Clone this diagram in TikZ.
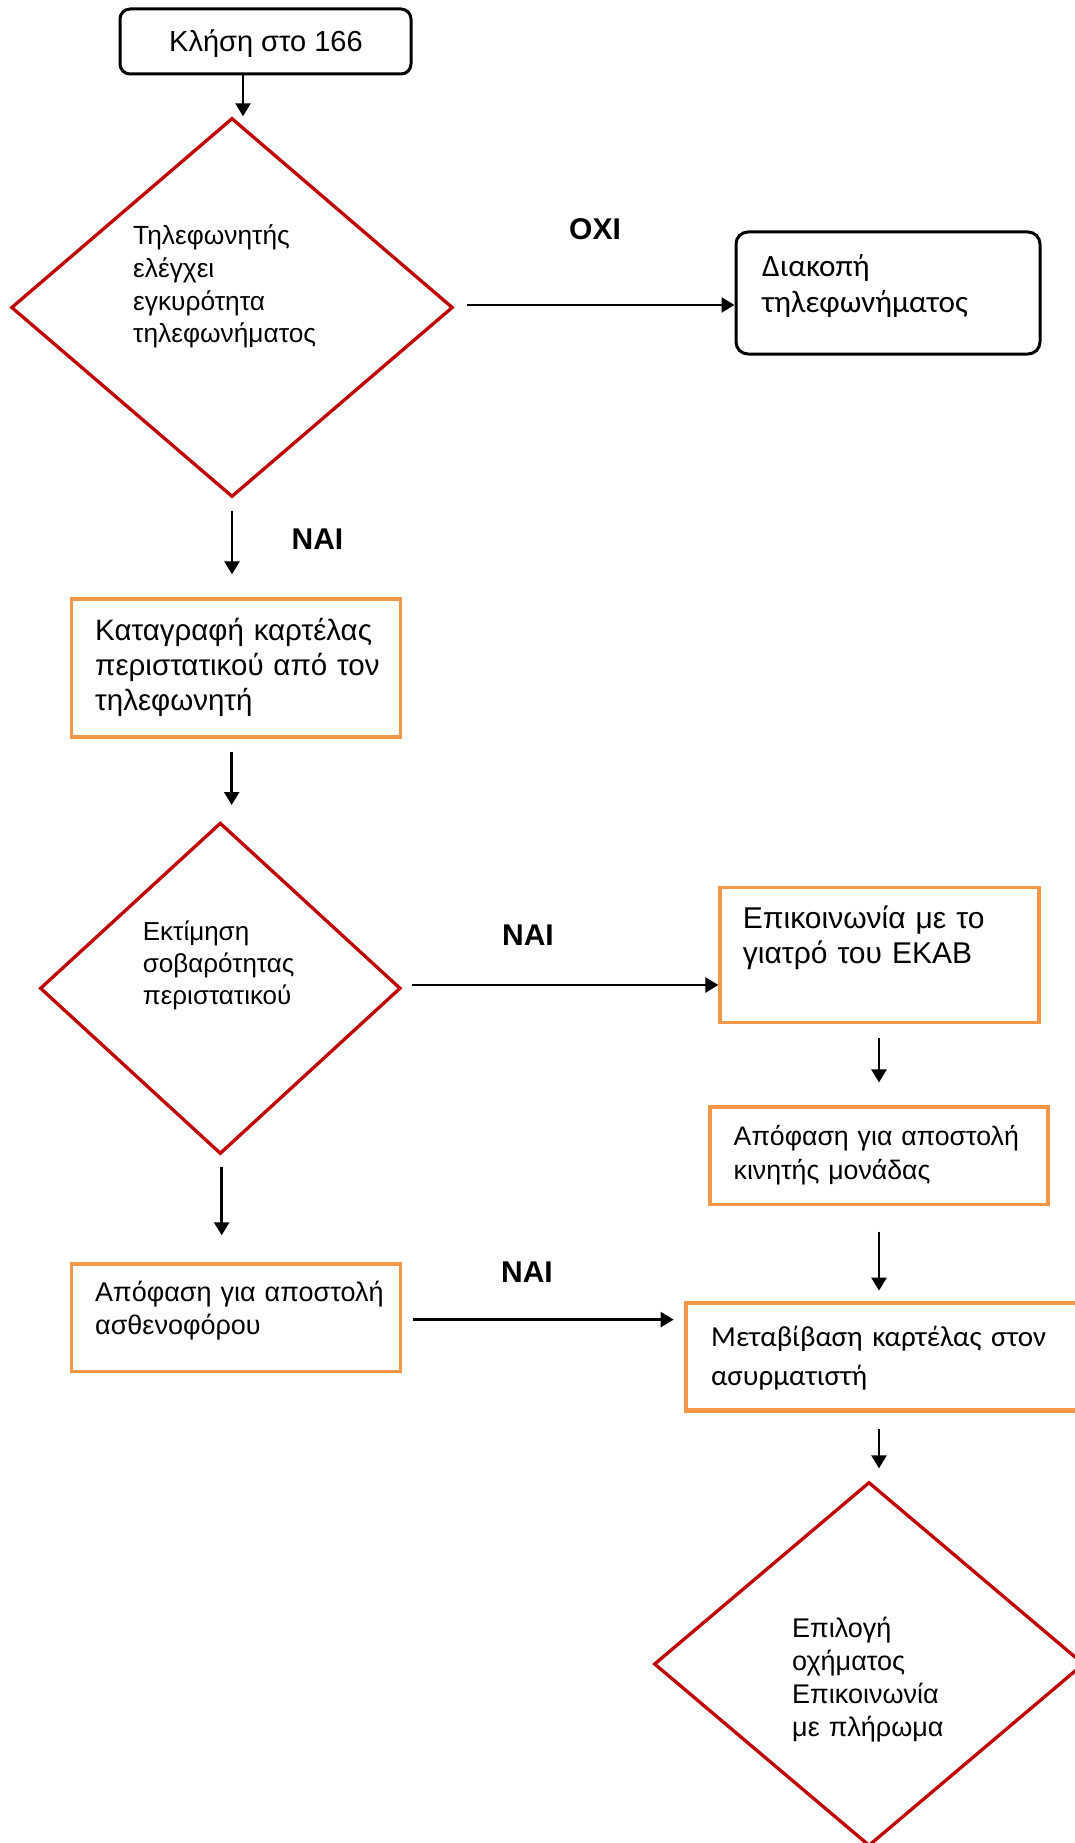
\documentclass[tikz,border=0pt]{standalone}
\usepackage{fontspec}
\setmainfont{Liberation Sans}
\newfontfamily\calibrifont{Carlito}
\usetikzlibrary{shapes.geometric,arrows.meta}
\definecolor{dred}{HTML}{C00000}
\definecolor{orng}{HTML}{F79646}
\tikzset{
  arr/.style={line width=2.5pt,-{Triangle[width=15pt,length=13pt]}},
  termbox/.style={draw=black,line width=3pt,rounded corners=10pt,inner sep=0pt},
  procbox/.style={draw=orng,line width=3.3pt,inner sep=0pt},
  decision/.style={diamond,draw=dred,line width=3.3pt,inner sep=0pt},
  lbl/.style={inner sep=0pt,anchor=base,font=\bfseries\fontsize{30}{36}\selectfont},
  txt/.style={inner sep=0pt,anchor=base west,align=left,text width=420pt}
}
\begin{document}
\begin{tikzpicture}[x=1pt,y=-1pt]
\useasboundingbox (0,0) rectangle (1075,1843);
\clip (0,0) rectangle (1075,1843);
\fill[white] (0,0) rectangle (1075,1843);

% shapes
\node[termbox,minimum width=291pt,minimum height=65pt] (b1) at (265.5,41.5) {};
\node[decision,minimum width=441.7pt,minimum height=379pt] (d1) at (232,307.5) {};
\node[termbox,rounded corners=12pt,minimum width=304pt,minimum height=122pt] (b2) at (888,293) {};
\node[procbox,minimum width=329pt,minimum height=138pt] (b3) at (236.2,668) {};
\node[decision,minimum width=360.7pt,minimum height=331.3pt] (d2) at (220.3,988.3) {};
\node[procbox,minimum width=319pt,minimum height=135pt] (b4) at (879.5,955.2) {};
\node[procbox,minimum width=338pt,minimum height=97.5pt] (b5) at (879,1155.8) {};
\node[procbox,minimum width=329pt,minimum height=107.7pt] (b6) at (236.2,1317.8) {};
\node[procbox,line width=4.7pt,minimum width=424pt,minimum height=107.7pt] (b7) at (898,1356.8) {};
\node[decision,minimum width=430pt,minimum height=364pt] (d3) at (869,1664) {};

% texts
\node[inner sep=0pt,anchor=base,font=\fontsize{29}{35}\selectfont] (t1) at (266,51.7) {Κλήση στο 166};
\node[txt,font=\fontsize{26.3}{32.6}\selectfont] (t2) at (133,245) {Τηλεφωνητής\\ελέγχει\\εγκυρότητα\\τηλεφωνήματος};
\node[txt,font=\calibrifont\fontsize{31.2}{36}\selectfont] (t3) at (762,276.7) {Διακοπή\\τηλεφωνήματος};
\node[txt,font=\fontsize{29.5}{35}\selectfont] (t4) at (95,640.7) {Καταγραφή καρτέλας\\περιστατικού από τον\\τηλεφωνητή};
\node[txt,font=\fontsize{26}{32}\selectfont] (t5) at (142.7,940.7) {Εκτίμηση\\σοβαρότητας\\περιστατικού};
\node[txt,font=\fontsize{30}{35}\selectfont] (t6) at (742.7,928.3) {Επικοινωνία με το\\γιατρό του ΕΚΑΒ};
\node[txt,font=\fontsize{26.7}{33.3}\selectfont] (t7) at (733.5,1145.7) {Απόφαση για αποστολή\\κινητής μονάδας};
\node[txt,font=\fontsize{27}{32.3}\selectfont] (t8) at (95,1301.7) {Απόφαση για αποστολή\\ασθενοφόρου};
\node[txt,font=\calibrifont\fontsize{29}{39}\selectfont] (t9) at (711,1346) {Μεταβίβαση καρτέλας στον\\ασυρματιστή};
\node[txt,font=\fontsize{27}{33}\selectfont] (t10) at (792,1637) {Επιλογή\\οχήματος\\Επικοινωνία\\με πλήρωμα};

% labels
\node[lbl] (l1) at (595,240) {ΟΧΙ};
\node[lbl] (l2) at (317.5,549) {ΝΑΙ};
\node[lbl] (l3) at (528,945) {ΝΑΙ};
\node[lbl] (l4) at (527,1282.7) {ΝΑΙ};

% connectors
\draw[arr] ([xshift=-22.5pt]b1.south) -- ([xshift=-22.5pt]b1.south |- d1.north);
\draw[arr,shorten <=12pt] ([yshift=2.5pt]d1.east) -- ([yshift=2.5pt]d1.east -| b2.west);
\draw[arr,shorten <=12pt,shorten >=23pt] (d1.south) -- (d1.south |- b3.north);
\draw[arr,shorten <=13pt,shorten >=16pt] ([xshift=-4.5pt]b3.south) -- ([xshift=-4.5pt]b3.south |- d2.north);
\draw[arr,shorten <=10pt] ([yshift=3.3pt]d2.east) -- ([yshift=3.3pt]d2.east -| b4.west);
\draw[arr,shorten <=14pt,shorten >=23pt] ([xshift=-0.5pt]b4.south) -- ([xshift=-0.5pt]b4.south |- b5.north);
\draw[arr,shorten <=11pt,shorten >=27pt] ([xshift=1.4pt]d2.south) -- ([xshift=1.4pt]d2.south |- b6.north);
\draw[arr,shorten <=10.5pt,shorten >=10pt] ([yshift=-1.8pt]b6.east) -- ([yshift=-1.8pt]b6.east -| b7.west);
\draw[arr,shorten <=25.5pt,shorten >=10pt] (b5.south) -- (b5.south |- b7.north);
\draw[arr,shorten <=16pt,shorten >=12pt] ([xshift=-19pt]b7.south) -- ([xshift=-19pt]b7.south |- d3.north);
\end{tikzpicture}
\end{document}
